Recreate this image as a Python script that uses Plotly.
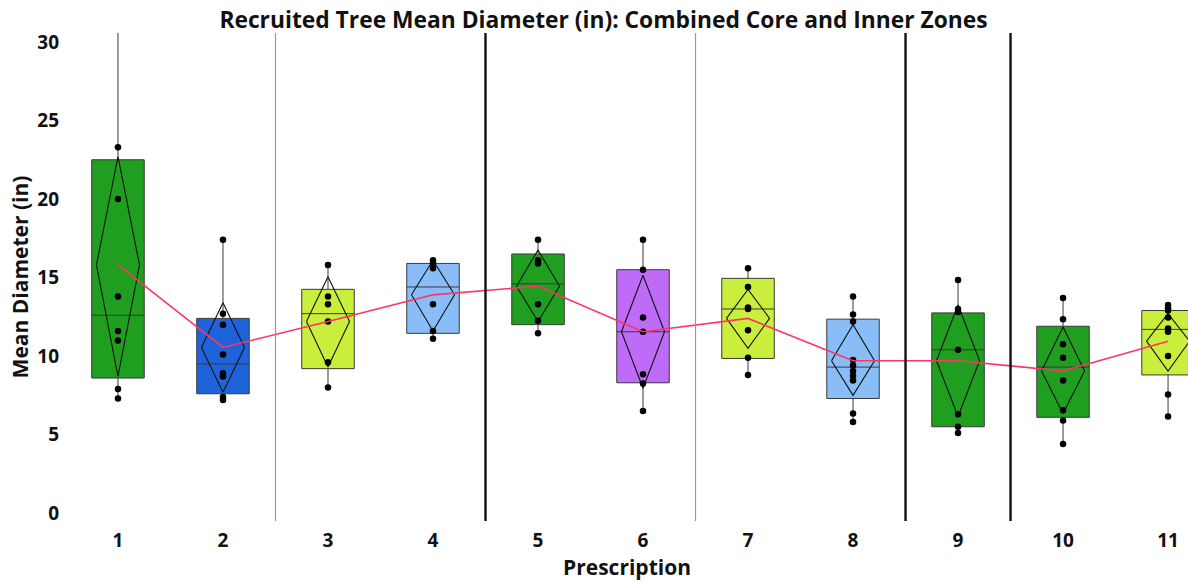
import plotly.graph_objects as go

prescriptions = [1, 2, 3, 4, 5, 6, 7, 8, 9, 10, 11]
tick_labels = ["1", "2", "3", "4", "5", "6", "7", "8", "9", "10", "11"]

points = [
    [31.5, 23.3, 20.0, 13.8, 11.6, 11.0, 7.9, 7.3],
    [17.4, 12.7, 12.0, 10.1, 8.9, 8.7, 7.4, 7.2],
    [15.8, 13.8, 13.3, 12.2, 9.6, 8.0],
    [16.1, 15.9, 15.6, 13.3, 11.6, 11.1],
    [17.4, 16.1, 15.9, 13.3, 12.25, 11.45],
    [17.4, 15.5, 12.45, 11.55, 8.85, 8.25, 6.5],
    [15.6, 14.4, 13.1, 13.0, 11.65, 9.9, 8.8],
    [13.8, 12.65, 12.2, 9.75, 9.4, 9.05, 8.75, 8.45, 6.35, 5.8],
    [14.85, 13.0, 12.8, 10.4, 6.3, 5.5, 5.1],
    [13.7, 12.35, 10.75, 9.9, 8.45, 6.55, 5.9, 4.4],
    [13.25, 13.05, 12.9, 12.45, 11.75, 11.55, 10.0, 7.55, 6.15],
]

# box statistics
q1 = [8.6, 7.6, 9.2, 11.45, 12.0, 8.3, 9.85, 7.3, 5.5, 6.1, 8.8]
median = [12.6, 9.5, 12.7, 14.4, 14.6, 11.55, 13.0, 9.3, 10.4, 9.3, 11.7]
q3 = [22.5, 12.4, 14.25, 15.9, 16.5, 15.5, 14.95, 12.35, 12.75, 11.9, 12.9]
lower_fence = [7.3, 7.2, 8.0, 11.1, 11.45, 6.5, 8.8, 5.8, 5.1, 4.4, 6.15]
upper_fence = [31.5, 17.4, 15.8, 16.1, 17.4, 17.4, 15.6, 13.8, 14.85, 13.7, 13.25]

# means and confidence interval (means diamonds)
means = [15.8, 10.55, 12.2, 13.9, 14.45, 11.55, 12.4, 9.7, 9.7, 9.05, 10.95]
ci_low = [8.7, 7.7, 9.3, 11.6, 12.2, 7.95, 10.5, 7.5, 6.15, 6.35, 9.05]
ci_high = [22.7, 13.4, 15.05, 16.1, 16.75, 15.15, 14.25, 12.0, 13.25, 11.85, 12.7]

colors = ["#1F9E1F", "#1F63DA", "#C9EF3C", "#88BDF8", "#1F9E1F", "#BE6CF8",
          "#C9EF3C", "#88BDF8", "#1F9E1F", "#1F9E1F", "#C9EF3C"]

# separators between prescription groups
sep_gray = [2.5, 6.5]
sep_black = [4.5, 8.5, 9.5]

fig = go.Figure()

for i, p in enumerate(prescriptions):
    fig.add_trace(go.Box(
        x=[p], q1=[q1[i]], median=[median[i]], q3=[q3[i]],
        lowerfence=[lower_fence[i]], upperfence=[upper_fence[i]],
        width=0.5, whiskerwidth=0,
        fillcolor=colors[i],
        line=dict(color="#3a3a3a", width=1),
        boxpoints=False, showlegend=False, hoverinfo="skip",
    ))

# means diamonds
hw = 0.205
dx, dy = [], []
for i, p in enumerate(prescriptions):
    dx += [p - hw, p, p + hw, p, p - hw, None]
    dy += [means[i], ci_high[i], means[i], ci_low[i], means[i], None]
fig.add_trace(go.Scatter(x=dx, y=dy, mode="lines",
                         line=dict(color="#111111", width=1.1),
                         showlegend=False, hoverinfo="skip"))

# individual points
px, py = [], []
for i, p in enumerate(prescriptions):
    for v in points[i]:
        px.append(p)
        py.append(v)
fig.add_trace(go.Scatter(x=px, y=py, mode="markers",
                         marker=dict(color="black", size=6.5),
                         showlegend=False, hoverinfo="skip"))

# mean connect line
fig.add_trace(go.Scatter(x=prescriptions, y=means, mode="lines",
                         line=dict(color="#FF3366", width=1.6),
                         showlegend=False))

shapes = []
for s in sep_gray:
    shapes.append(dict(type="line", xref="x", yref="paper", x0=s, x1=s, y0=0, y1=1,
                       line=dict(color="#9a9a9a", width=1.2)))
for s in sep_black:
    shapes.append(dict(type="line", xref="x", yref="paper", x0=s, x1=s, y0=0, y1=1,
                       line=dict(color="#111111", width=2.4)))

font_family = "Open Sans, Noto Sans, sans-serif"
fig.update_layout(
    width=1188, height=585,
    margin=dict(l=66, r=0, t=33, b=64, autoexpand=False),
    paper_bgcolor="white", plot_bgcolor="white",
    boxmode="overlay",
    shapes=shapes,
    title=dict(text="<b>Recruited Tree Mean Diameter (in): Combined Core and Inner Zones</b>",
               x=0.508, xanchor="center", xref="container",
               yref="container", y=1 - 20 / 585, yanchor="middle",
               font=dict(family=font_family, size=22.8, color="#111111")),
    font=dict(family=font_family, color="#111111"),
    xaxis=dict(range=[0.505, 11.19], tickmode="array", tickvals=prescriptions,
               ticktext=["<b>%s</b>" % t for t in tick_labels],
               tickfont=dict(size=19), showgrid=False, zeroline=False,
               showline=False, ticks="", ticklabelstandoff=6, automargin=False,
               title=dict(text="<b>Prescription</b>", font=dict(size=21), standoff=2)),
    yaxis=dict(range=[-0.5, 30.57], tickvals=[0, 5, 10, 15, 20, 25, 30],
               ticktext=["<b>%d</b>" % v for v in [0, 5, 10, 15, 20, 25, 30]],
               tickfont=dict(size=19), showgrid=False, zeroline=False,
               showline=False, ticks="", ticklabelstandoff=6, automargin=False,
               title=dict(text="<b>Mean Diameter (in)</b>", font=dict(size=21), standoff=2)),
)

fig.write_html("out.html",
               config={"displayModeBar": False},
               post_script="document.body.style.margin='0';document.body.style.overflow='hidden';")
